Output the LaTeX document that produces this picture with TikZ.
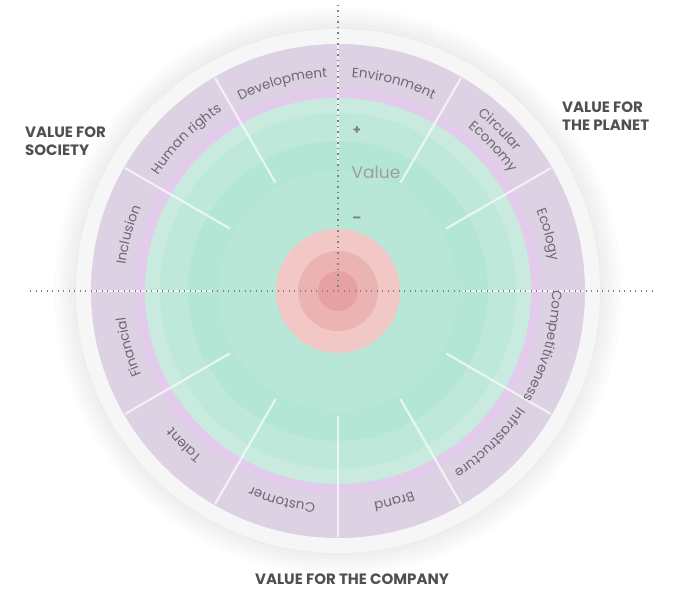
\documentclass[tikz,border=0pt]{standalone}
\usepackage{fontspec}
\setmainfont{Poppins}
\usetikzlibrary{decorations.text}
\definecolor{labc}{HTML}{6E6673}
\definecolor{titc}{HTML}{505050}
\definecolor{ringw}{HTML}{F7F6F7}
\definecolor{purp}{HTML}{DCD2E4}
\definecolor{purpin}{HTML}{E3CCEB}
\definecolor{g1}{HTML}{C8EADF}
\definecolor{g2}{HTML}{BEE8DA}
\definecolor{g3}{HTML}{B4E6D6}
\definecolor{g4}{HTML}{B8E7D8}
\definecolor{r1}{HTML}{F2C8C7}
\definecolor{r2}{HTML}{ECB3B3}
\definecolor{r3}{HTML}{E6A1A3}
\tikzset{
  x=1pt,y=1pt,
  divider/.style={draw=white,draw opacity=0.65,line width=2.2pt},
  dots/.style={draw=black!50,line width=1.3pt,dash pattern=on 1.3pt off 4.2pt},
  title/.style={font=\fontsize{15}{18}\selectfont\bfseries,text=titc,align=left,inner sep=0pt},
  arctext/.style={decorate,decoration={text along path,text align=center,
     text={|\fontsize{13.5}{13.5}\selectfont\color{labc}|#1}}}
}
\newcommand{\arclabel}[4]{% start, end, radius, text
  \path[arctext={#4}] (#1:#3) arc[start angle=#1,end angle=#2,radius=#3];}
\begin{document}
\begin{tikzpicture}
\useasboundingbox (0,0) rectangle (680,-596);
\fill[white] (0,0) rectangle (680,-596);
\begin{scope}[shift={(338,-291)}]
  % soft shadow
  \foreach \r in {284,280,...,262} {\fill[black,opacity=0.012] (0,0) circle (\r);}
  \fill[ringw] (0,0) circle (262);
  \fill[purp] (0,0) circle (247);
  \fill[purpin] (0,0) circle (203);
  \fill[g1] (0,0) circle (193);
  \fill[g2] (0,0) circle (178);
  \fill[g3] (0,0) circle (150);
  \fill[g4] (0,0) circle (120);
  \fill[r1] (0,0) circle (62);
  \fill[r2] (0,0) circle (40);
  \fill[r3] (0,0) circle (20);
  % dividers
  \foreach \a in {0,30,60,90,120,150,180,210,240,270,300,330}
    {\coordinate (d1) at (\a:125); \coordinate (d2) at (\a:246); \draw[divider] (d1) -- (d2);}
  % labels (clockwise arcs)
  \arclabel{180}{150}{214}{Inclusion}
  \arclabel{150}{120}{214}{Human rights}
  \arclabel{120}{90}{214}{Development}
  \arclabel{90}{60}{214}{Environment}
  \arclabel{58}{32}{225}{Circular}
  \arclabel{58}{28}{209}{Economy}
  \arclabel{30}{0}{214}{Ecology}
  \arclabel{0}{-30}{214}{Competitiveness}
  \arclabel{-30}{-60}{214}{Infrastructure}
  \arclabel{-60}{-90}{214}{Brand}
  \arclabel{-90}{-120}{214}{Customer}
  \arclabel{-120}{-150}{214}{Talent}
  \arclabel{-150}{-180}{214}{Financial}
\end{scope}
% axes
\coordinate (vt) at (338,-5); \coordinate (vb) at (338,-291);
\coordinate (hl) at (30,-291); \coordinate (hr) at (652,-291);
\draw[dots] (vt) -- (vb);
\draw[dots] (hl) -- (hr);
% value scale
\node[text=black!50,font=\fontsize{13}{13}\selectfont\bfseries] (plus) at (357,-131) {+};
\node[text=black!38,font=\fontsize{17}{17}\selectfont] (val) at (376,-172) {Value};
\node[text=black!50,font=\fontsize{13}{13}\selectfont\bfseries] (minus) at (357,-220) {–};
% titles
\node[title,anchor=west] (soc) at (25,-141) {VALUE FOR\\SOCIETY};
\node[title,anchor=west] (pla) at (562,-116) {VALUE FOR\\THE PLANET};
\node[title] (com) at (352,-579) {VALUE FOR THE COMPANY};
\end{tikzpicture}
\end{document}
